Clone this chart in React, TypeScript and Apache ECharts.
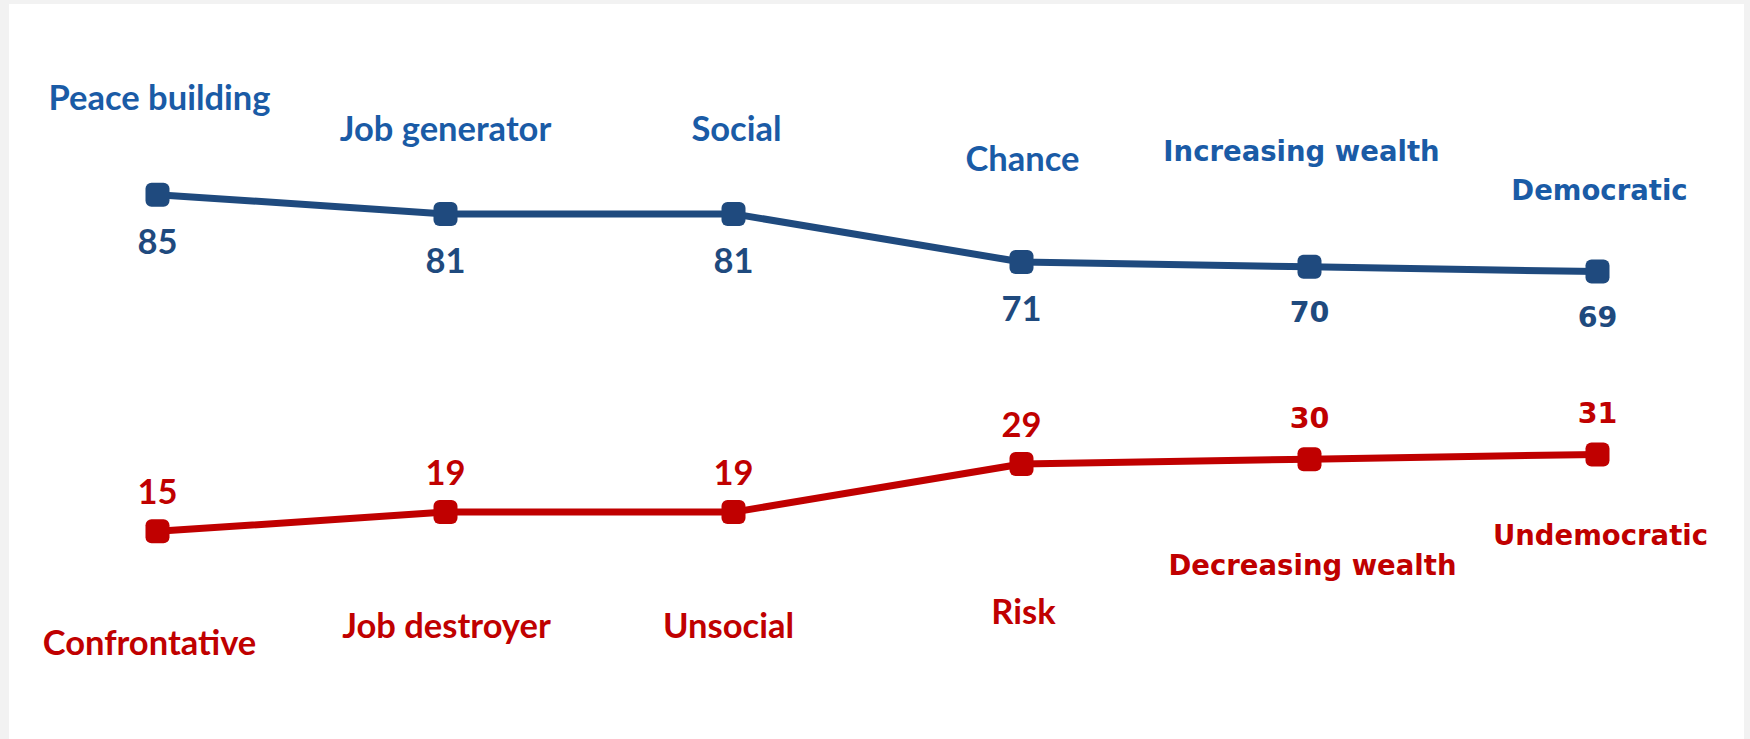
import React, { useEffect, useRef } from "react";
import * as echarts from "echarts";

// ---- data ----
const positiveLabels = ["Peace building", "Job generator", "Social", "Chance", "Increasing wealth", "Democratic"];
const negativeLabels = ["Confrontative", "Job destroyer", "Unsocial", "Risk", "Decreasing wealth", "Undemocratic"];
const positiveValues = [85, 81, 81, 71, 70, 69];
const negativeValues = [15, 19, 19, 29, 30, 31];

// ---- layout / style ----
const posNameOffsets = [[2, -98], [0, -86], [3, -86], [1, -104], [-8, -116], [2, -82]];
const negNameOffsets = [[-8, 110], [1, 112], [-5, 112], [2, 146], [3, 106], [3, 81]];
const fontFamilies = ["Lato", "Lato", "Lato", "Lato", "DejaVu Sans", "DejaVu Sans"];
const nameSizes = [34.5, 34.5, 34.5, 34.5, 27.5, 27.5];
const valueSizes = [34.5, 34.5, 34.5, 34.5, 28.5, 28.5];

const NAVY = "#1F4A7E";
const LABEL_BLUE = "#1A5BA6";
const RED = "#C00000";

export default function App() {
  const ref = useRef<HTMLDivElement>(null);
  useEffect(() => {
    if (!ref.current) return;
    const chart = echarts.init(ref.current, null, { renderer: "svg" });

    const valueSeries = (vals: number[], color: string, dy: number) => ({
      type: "line",
      silent: true,
      data: vals.map((v, i) => ({
        value: v,
        label: {
          fontFamily: fontFamilies[i],
          fontSize: valueSizes[i],
          offset: [0, dy],
        },
      })),
      symbol: "roundRect",
      symbolSize: 24,
      showAllSymbol: true,
      lineStyle: { color, width: 7 },
      itemStyle: { color },
      label: {
        show: true,
        position: "inside",
        color,
        fontWeight: "bold",
        formatter: "{c}",
      },
      z: 3,
    });

    const nameSeries = (vals: number[], names: string[], offsets: number[][], color: string) => ({
      type: "line",
      silent: true,
      data: vals.map((v, i) => ({
        value: v,
        name: names[i],
        label: {
          fontFamily: fontFamilies[i],
          fontSize: nameSizes[i],
          offset: offsets[i],
        },
      })),
      symbol: "circle",
      symbolSize: 1,
      showAllSymbol: true,
      lineStyle: { width: 0, opacity: 0 },
      itemStyle: { color: "transparent" },
      label: {
        show: true,
        position: "inside",
        color,
        fontWeight: "bold",
        formatter: (p: any) => names[p.dataIndex],
      },
      z: 2,
    });

    chart.setOption({
      animation: false,
      backgroundColor: "#F2F2F2",
      graphic: [
        {
          type: "rect",
          shape: { x: 9, y: 4, width: 1735, height: 740 },
          style: { fill: "#FFFFFF" },
          z: -10,
        },
      ],
      grid: { left: 13.5, width: 1728, top: 122.5, height: 481 },
      xAxis: {
        type: "category",
        data: positiveLabels,
        boundaryGap: true,
        show: false,
      },
      yAxis: { type: "value", min: 0, max: 100, show: false },
      series: [
        valueSeries(positiveValues, NAVY, 46),
        valueSeries(negativeValues, RED, -41),
        nameSeries(positiveValues, positiveLabels, posNameOffsets, LABEL_BLUE),
        nameSeries(negativeValues, negativeLabels, negNameOffsets, RED),
      ],
    });
    return () => chart.dispose();
  }, []);
  return (
    <div
      ref={ref}
      style={{ position: "absolute", left: 0, top: 0, width: 1750, height: 739 }}
    />
  );
}
